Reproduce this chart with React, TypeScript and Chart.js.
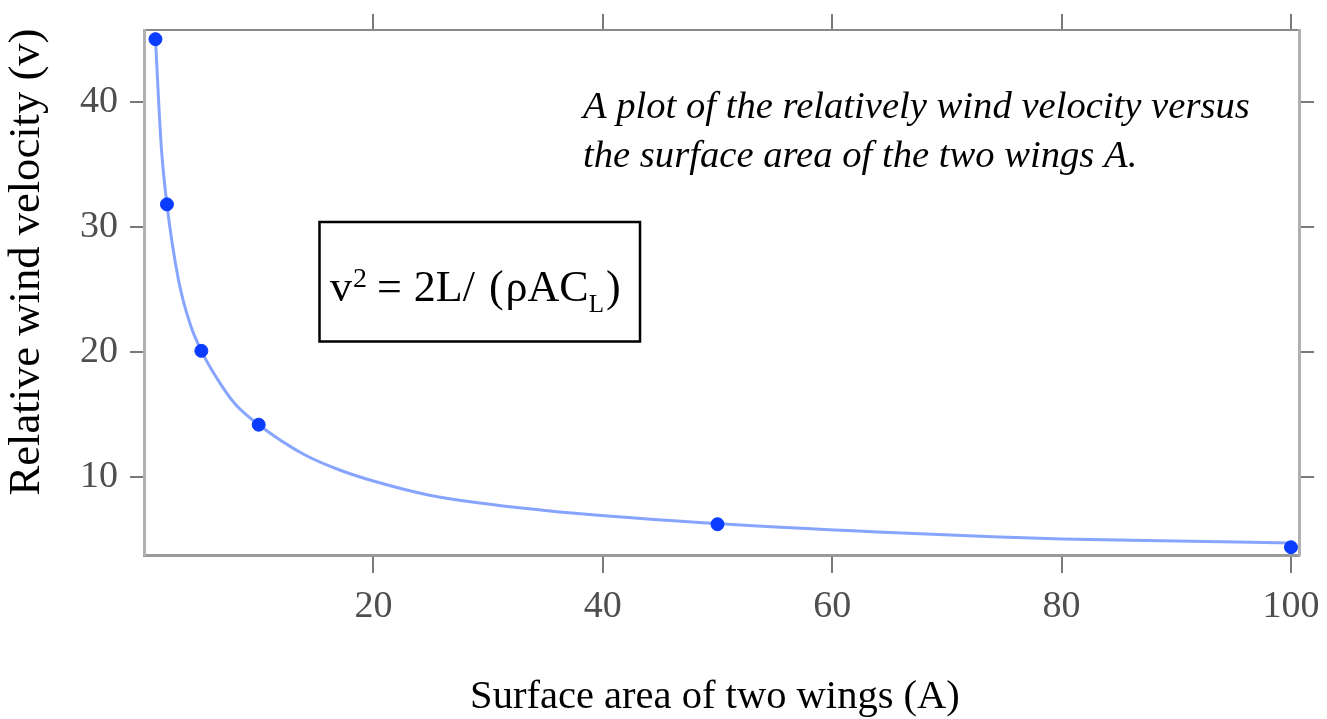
import React, { useEffect, useRef } from "react";
import { Chart, registerables } from "chart.js";

Chart.register(...registerables);

// ---- data ----
const pointAreas = [1, 2, 5, 10, 50, 100];
const pointVelocities = [45, 31.8, 20.1, 14.2, 6.25, 4.41];

const curveAreas = [1, 1.5, 2, 3, 4, 5, 7, 8, 10, 14, 17, 20, 25, 35, 50, 64, 74, 80, 90, 100];
const curveVelocities = [45, 36.5, 31.8, 25.8, 22.3, 20.1, 17.0, 15.8, 14.2, 11.8, 10.6, 9.7, 8.55, 7.35, 6.3, 5.62, 5.25, 5.07, 4.9, 4.75];

const xTicks = [20, 40, 60, 80, 100];
const yTicks = [10, 20, 30, 40];

const xTitle = "Surface area of two wings (A)";
const yTitle = "Relative wind velocity (v)";
const noteLines = [
  "A plot of the relatively wind velocity versus",
  "the surface area of the two wings A.",
];

const W = 1327;
const H = 719;
const SERIF = '"Liberation Serif", "Times New Roman", serif';

function fitSize(ctx: CanvasRenderingContext2D, text: string, style: string, target: number) {
  ctx.font = `${style} 100px ${SERIF}`;
  const w = ctx.measureText(text).width;
  return (100 * target) / w;
}

const textPlugin = {
  id: "texts",
  afterDraw(chart: any) {
    const ctx: CanvasRenderingContext2D = chart.ctx;
    ctx.save();
    ctx.fillStyle = "#000";

    // y title
    const ys = fitSize(ctx, yTitle, "", 467);
    ctx.save();
    ctx.translate(27, 262);
    ctx.rotate(-Math.PI / 2);
    ctx.font = `${ys}px ${SERIF}`;
    ctx.textAlign = "center";
    ctx.textBaseline = "middle";
    ctx.fillText(yTitle, 0, 0);
    ctx.restore();

    // x title
    const xs = fitSize(ctx, xTitle, "", 490);
    ctx.font = `${xs}px ${SERIF}`;
    ctx.textAlign = "center";
    ctx.textBaseline = "alphabetic";
    ctx.fillText(xTitle, 715, 708);

    // note
    const ns = fitSize(ctx, noteLines[0], "italic", 667);
    ctx.font = `italic ${ns}px ${SERIF}`;
    ctx.textAlign = "left";
    ctx.fillText(noteLines[0], 583, 118);
    ctx.fillText(noteLines[1], 583, 167);

    // formula box
    ctx.strokeStyle = "#000";
    ctx.lineWidth = 2.5;
    ctx.strokeRect(319.5, 222, 320.5, 119.5);

    const big = 44;
    const sup = 28;
    const sub = 25;
    let x = 330;
    const base = 301;
    const draw = (t: string, size: number, dy: number, gap = 0) => {
      ctx.font = `${size}px ${SERIF}`;
      ctx.fillText(t, x, base + dy);
      x += ctx.measureText(t).width + gap;
    };
    draw("v", big, 0, 1);
    draw("2", sup, -14, 10);
    draw("=", big, 0, 12);
    draw("2L", big, 0, 0);
    draw("/", big, 0, 14);
    draw("(", big, 0, 2);
    draw("\u03C1AC", big, 0, 0);
    draw("L", sub, 11, 2);
    draw(")", big, 0, 0);

    ctx.restore();
  },
};

export default function App() {
  const ref = useRef<HTMLCanvasElement | null>(null);

  useEffect(() => {
    if (!ref.current) return;
    const tickFont = { family: SERIF, size: 38 };
    const tickColor = "#4e4e4e";
    const gridBase = { drawOnChartArea: false, drawTicks: true, color: "#7a7a7a", lineWidth: 2 };
    const setX = (s: any) => {
      s.ticks = xTicks.map((v) => ({ value: v }));
    };
    const setY = (s: any) => {
      s.ticks = yTicks.map((v) => ({ value: v }));
    };
    const fixSize = (prop: "width" | "height", size: number) => (s: any) => {
      s[prop] = size;
      s.paddingTop = 0;
      s.paddingBottom = 0;
      s.paddingLeft = 0;
      s.paddingRight = 0;
    };
    const xMin = 0;
    const xMax = 100.7;
    const yMin = 3.79;
    const yMax = 45.73;

    const chart = new Chart(ref.current, {
      type: "scatter",
      data: {
        datasets: [
          {
            label: "points",
            data: pointAreas.map((a, i) => ({ x: a, y: pointVelocities[i] })),
            backgroundColor: "#0a3cff",
            borderColor: "#0a3cff",
            pointRadius: 6.5,
            showLine: false,
            order: 0,
          },
          {
            label: "curve",
            data: curveAreas.map((a, i) => ({ x: a, y: curveVelocities[i] })),
            showLine: true,
            borderColor: "rgba(95,135,255,0.75)",
            borderWidth: 3,
            pointRadius: 0,
            cubicInterpolationMode: "monotone",
            order: 1,
          },
        ],
      },
      options: {
        responsive: false,
        animation: false,
        events: [],
        layout: { padding: 0 },
        plugins: { legend: { display: false }, tooltip: { enabled: false } },
        scales: {
          x: {
            type: "linear",
            position: "bottom",
            min: xMin,
            max: xMax,
            afterBuildTicks: setX,
            afterFit: fixSize("height", 164),
            grid: { ...gridBase, tickLength: 18 },
            border: { display: true, color: "#9a9a9a", width: 3 },
            ticks: { font: tickFont, color: tickColor, padding: 11, maxRotation: 0, autoSkip: false },
          },
          x2: {
            type: "linear",
            position: "top",
            min: xMin,
            max: xMax,
            afterBuildTicks: setX,
            afterFit: fixSize("height", 30),
            grid: { ...gridBase, tickLength: 16 },
            border: { display: true, color: "#8a8a8a", width: 2 },
            ticks: { display: false },
          },
          y: {
            type: "linear",
            position: "left",
            min: yMin,
            max: yMax,
            afterBuildTicks: setY,
            afterFit: fixSize("width", 144),
            grid: { ...gridBase, tickLength: 14 },
            border: { display: true, color: "#b0b0b0", width: 3 },
            ticks: { font: tickFont, color: tickColor, padding: 12 },
          },
          y2: {
            type: "linear",
            position: "right",
            min: yMin,
            max: yMax,
            afterBuildTicks: setY,
            afterFit: fixSize("width", 28),
            grid: { ...gridBase, tickLength: 15 },
            border: { display: true, color: "#b0b0b0", width: 3 },
            ticks: { display: false },
          },
        },
      },
      plugins: [textPlugin],
    } as any);

    return () => chart.destroy();
  }, []);

  return (
    <div style={{ position: "absolute", left: 0, top: 0, width: W, height: H, background: "#fff" }}>
      <canvas ref={ref} width={W} height={H} style={{ display: "block", width: W, height: H }} />
    </div>
  );
}
